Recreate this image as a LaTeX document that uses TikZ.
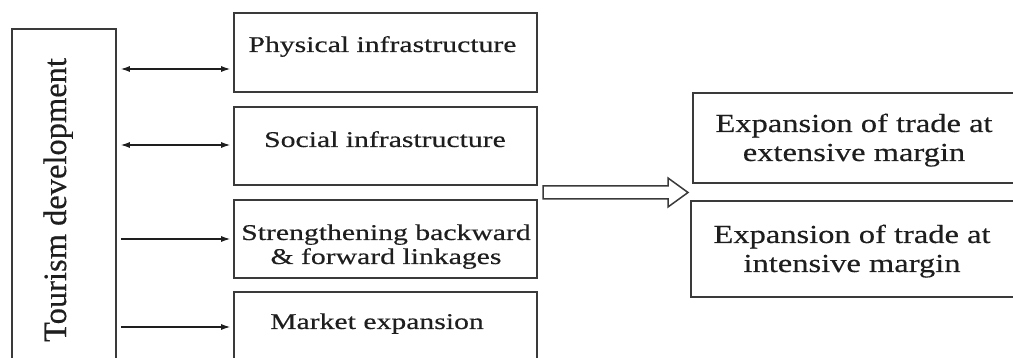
\documentclass[tikz,border=0pt]{standalone}
\usepackage{fontspec}
\setmainfont{Liberation Serif}[FakeBold=0.4]
\newfontfamily\midfont[FakeStretch=1.32,FakeBold=0.4]{Liberation Serif}
\newfontfamily\rightfont[FakeStretch=1.25,FakeBold=0.4]{Liberation Serif}
\usetikzlibrary{arrows.meta}
\definecolor{boxgray}{HTML}{3A3A3A}
\definecolor{inkdark}{HTML}{1E1E1E}
\begin{document}
\begin{tikzpicture}[x=1pt,y=-1pt,
  box/.style={draw=boxgray,line width=1.6pt,inner sep=0pt},
  midtext/.style={anchor=base,inner sep=0pt,text=inkdark,font=\midfont\fontsize{22.5}{24}\selectfont},
  righttext/.style={anchor=base,inner sep=0pt,text=inkdark,font=\rightfont\fontsize{26}{29}\selectfont},
  link/.style={draw=inkdark,line width=1.2pt,shorten <=4pt,shorten >=3pt},
  tipend/.style={-{Latex[length=9pt,width=6pt]}},
  tipboth/.style={{Latex[length=9pt,width=6pt]}-{Latex[length=9pt,width=6pt]}},
  hollow/.style={draw=boxgray,line width=1.5pt,fill=white,line join=miter}]
\useasboundingbox (0,0) rectangle (1013,358);
\clip (0,0) rectangle (1013,358);

% left column
\node[box,minimum width=104pt,minimum height=341pt] (tour) at (64,199.5) {};
\node[anchor=base,rotate=90,inner sep=0pt,text=inkdark,
      font=\fontsize{32.5}{36}\selectfont] (tourtext) at (66,200) {Tourism development};

% middle column
\node[box,minimum width=303pt,minimum height=79pt] (phys) at (385.5,52.5) {};
\node[box,minimum width=303pt,minimum height=78pt] (soc)  at (385.5,146) {};
\node[box,minimum width=303pt,minimum height=78pt] (str)  at (385.5,239) {};
\node[box,minimum width=303pt,minimum height=80pt] (mkt)  at (385.5,332) {};

\node[midtext] (physT) at (382.5,52) {Physical infrastructure};
\node[midtext] (socT)  at (385,147) {Social infrastructure};
\node[midtext] (strT1) at (386,240) {Strengthening backward};
\node[midtext] (strT2) at (386,264) {\& forward linkages};
\node[midtext] (mktT)  at (377,329) {Market expansion};

% right column
\node[box,minimum width=337pt,minimum height=90pt] (ext) at (861.5,138) {};
\node[box,minimum width=339pt,minimum height=96pt] (int) at (860.5,249) {};

\node[righttext] (extT1) at (854,132) {Expansion of trade at};
\node[righttext] (extT2) at (854,161) {extensive margin};
\node[righttext] (intT1) at (852,243) {Expansion of trade at};
\node[righttext] (intT2) at (852,272) {intensive margin};

% links from tourism development
\draw[link,tipboth] (tour.east |- 0,69)  -- (phys.west |- 0,69);
\draw[link,tipboth] (tour.east |- 0,145) -- (soc.west |- 0,145);
\draw[link,tipend]  (tour.east |- 0,239) -- (str.west |- 0,239);
\draw[link,tipend]  (tour.east |- 0,327) -- (mkt.west |- 0,327);

% block arrow towards the trade outcomes
\coordinate (bstart) at (543,192.5);
\coordinate (btip) at (688,192.5);
\draw[hollow] (bstart) ++(0,-6.5) -- ++(125,0) -- ++(0,-8) -- (btip)
  -- ++(-20,14.5) -- ++(0,-8) -- ++(-125,0) -- cycle;
\end{tikzpicture}
\end{document}
